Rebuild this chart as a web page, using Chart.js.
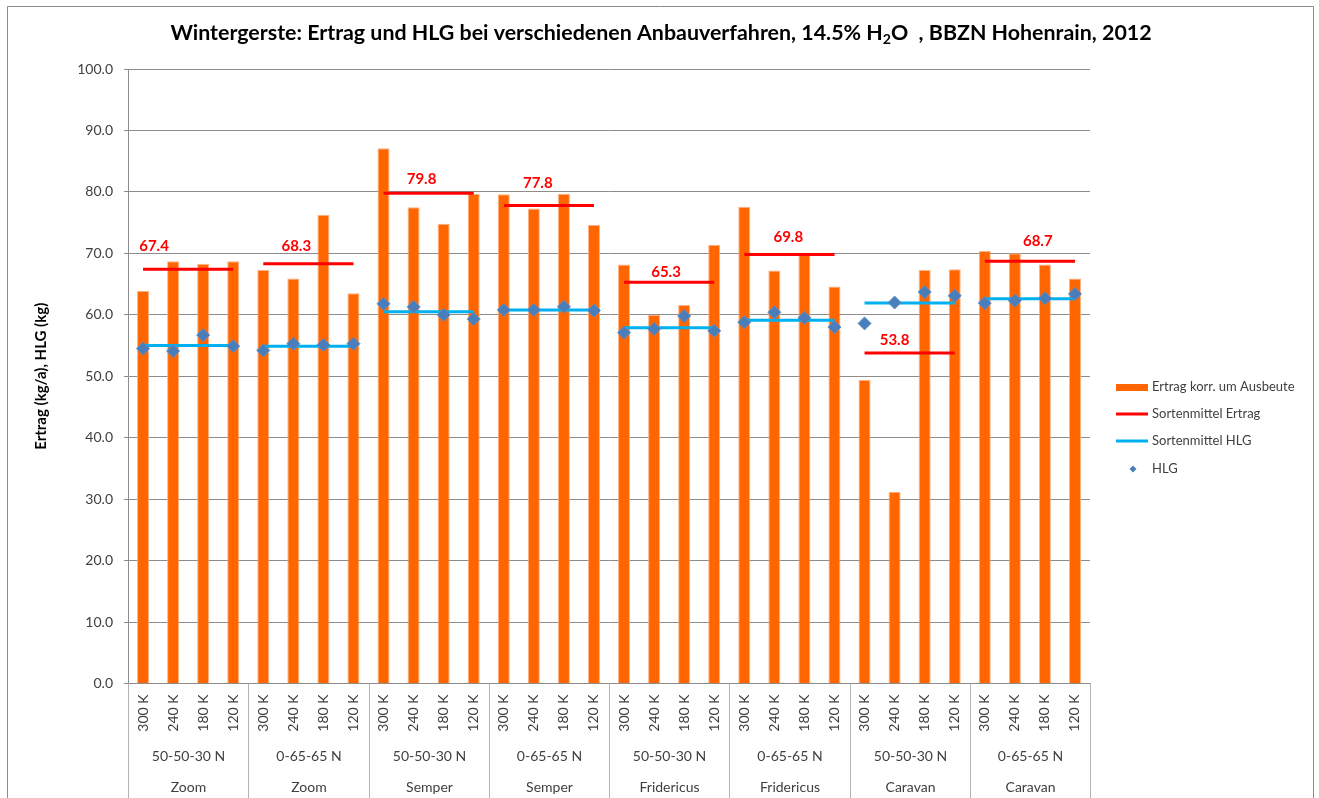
<!DOCTYPE html>
<html>
<head>
<meta charset="utf-8">
<script src="https://cdn.jsdelivr.net/npm/chart.js@4.4.1/dist/chart.umd.min.js"></script>
<style>
  html, body { margin: 0; padding: 0; background: #ffffff; }
  #wrap { width: 1319px; height: 798px; position: relative; }
</style>
</head>
<body>
<div id="wrap"><canvas id="c" width="1319" height="798"></canvas></div>
<script>
// ---------- data ----------
const kLabels = ['300 K', '240 K', '180 K', '120 K'];
const nLabels = ['50-50-30 N', '0-65-65 N', '50-50-30 N', '0-65-65 N', '50-50-30 N', '0-65-65 N', '50-50-30 N', '0-65-65 N'];
const sortLabels = ['Zoom', 'Zoom', 'Semper', 'Semper', 'Fridericus', 'Fridericus', 'Caravan', 'Caravan'];

const ertrag = [
  63.9, 68.7, 68.3, 68.7,
  67.3, 65.9, 76.3, 63.5,
  87.1, 77.5, 74.8, 79.7,
  79.6, 77.3, 79.7, 74.6,
  68.2, 60.0, 61.6, 71.4,
  77.6, 67.2, 69.9, 64.6,
  49.4, 31.2, 67.3, 67.4,
  70.4, 70.0, 68.2, 65.9
];
const hlg = [
  54.5, 54.1, 56.7, 54.9,
  54.2, 55.3, 55.1, 55.3,
  61.8, 61.3, 60.0, 59.3,
  60.8, 60.8, 61.3, 60.7,
  57.1, 57.7, 59.8, 57.4,
  58.8, 60.4, 59.5, 58.0,
  58.6, 62.0, 63.7, 63.1,
  61.9, 62.3, 62.7, 63.4
];
const ertragMean = [67.4, 68.3, 79.8, 77.8, 65.3, 69.8, 53.8, 68.7];
const hlgMean = [55.0, 54.9, 60.5, 60.8, 57.9, 59.1, 61.9, 62.6];

const yTicks = [0, 10, 20, 30, 40, 50, 60, 70, 80, 90, 100];

// ---------- derived tables ----------
const categories = [];
sortLabels.forEach(() => kLabels.forEach(k => categories.push(k)));
const ertragMeanLine = [];
const hlgMeanLine = [];
ertragMean.forEach(m => { for (let i = 0; i < kLabels.length; i++) ertragMeanLine.push(m); });
hlgMean.forEach(m => { for (let i = 0; i < kLabels.length; i++) hlgMeanLine.push(m); });

// ---------- styles ----------
const FONT = 'Lato, "Open Sans", "Liberation Sans", sans-serif';
const TXT = '#404040';
const GRID = '#8c8c8c';
const SEP = '#b4b4b4';
const ORANGE = '#FF6600';
const RED = '#FF0000';
const CYAN = '#00B0F0';
const BLUE = '#4A7EBB';
// label placement offsets (pixels) relative to first point of each group's mean line
const labelDx = [11, 33, 38, 34, 42, 44, 30, 53];
const labelDy = [-23, -18, -14, -22, -10, -17, -13, -20];

const groupSize = kLabels.length;
function gapSegment(color) {
  return ctx => (ctx.p0DataIndex % groupSize === groupSize - 1) ? 'rgba(0,0,0,0)' : color;
}

const decor = {
  id: 'decor',
  afterDraw(chart) {
    const ctx = chart.ctx;
    const xs = chart.scales.x, ys = chart.scales.y;
    const area = chart.chartArea;
    ctx.save();

    // outer border
    ctx.strokeStyle = '#8a8a8a';
    ctx.lineWidth = 1;
    ctx.beginPath();
    ctx.moveTo(7.5, 800); ctx.lineTo(7.5, 6.5); ctx.lineTo(1313.5, 6.5); ctx.lineTo(1313.5, 800);
    ctx.stroke();

    // title with subscript
    const parts = [
      ['Wintergerste: Ertrag und HLG bei verschiedenen Anbauverfahren, 14.5% H', false],
      ['2', true],
      ['O  , BBZN Hohenrain, 2012', false]
    ];
    let size = 20;
    const measure = s => {
      let w = 0;
      parts.forEach(([t, sub]) => { ctx.font = 'bold ' + (sub ? s * 0.66 : s) + 'px ' + FONT; w += ctx.measureText(t).width; });
      return w;
    };
    let w = measure(size);
    size = size * 982 / w;
    w = measure(size);
    let tx = 661 - w / 2;
    ctx.fillStyle = '#000000';
    ctx.textBaseline = 'alphabetic';
    ctx.textAlign = 'left';
    parts.forEach(([t, sub]) => {
      ctx.font = 'bold ' + (sub ? size * 0.66 : size) + 'px ' + FONT;
      ctx.fillText(t, tx, sub ? 44 : 40);
      tx += ctx.measureText(t).width;
    });

    // y axis title
    ctx.save();
    ctx.translate(41, (area.top + area.bottom) / 2);
    ctx.rotate(-Math.PI / 2);
    ctx.font = 'bold 15px ' + FONT;
    ctx.fillStyle = '#000000';
    ctx.textAlign = 'center';
    ctx.textBaseline = 'middle';
    ctx.fillText('Ertrag (kg/a), HLG (kg)', 0, 0);
    ctx.restore();

    // x axis: rotated K labels
    ctx.fillStyle = TXT;
    ctx.font = '14px ' + FONT;
    categories.forEach((lab, i) => {
      const x = xs.getPixelForValue(i);
      ctx.save();
      ctx.translate(x, area.bottom + 11);
      ctx.rotate(-Math.PI / 2);
      ctx.textAlign = 'right';
      ctx.textBaseline = 'middle';
      ctx.fillText(lab, 0, 0);
      ctx.restore();
    });
    // group labels and separators
    ctx.textAlign = 'center';
    ctx.textBaseline = 'middle';
    const nG = sortLabels.length;
    const edges = [];
    for (let g = 0; g <= nG; g++) {
      let x;
      if (g === 0) x = area.left;
      else if (g === nG) x = area.right;
      else x = (xs.getPixelForValue(g * groupSize - 1) + xs.getPixelForValue(g * groupSize)) / 2;
      edges.push(Math.round(x) + 0.5);
    }
    ctx.strokeStyle = SEP;
    ctx.lineWidth = 1;
    edges.forEach(x => {
      ctx.beginPath(); ctx.moveTo(x, area.bottom); ctx.lineTo(x, 800); ctx.stroke();
    });
    for (let g = 0; g < nG; g++) {
      const cx = (edges[g] + edges[g + 1]) / 2;
      ctx.fillText(nLabels[g], cx, 756);
      ctx.fillText(sortLabels[g], cx, 787);
    }

    // mean labels
    ctx.fillStyle = RED;
    ctx.font = 'bold 15px ' + FONT;
    ertragMean.forEach((m, g) => {
      const x = xs.getPixelForValue(g * groupSize) + labelDx[g];
      const y = ys.getPixelForValue(m) + labelDy[g];
      ctx.fillText(m.toFixed(1), x, y);
    });

    // legend
    const lx = 1116, lw = 32, tx0 = 1152;
    ctx.font = '13px ' + FONT;
    ctx.textAlign = 'left';
    ctx.textBaseline = 'middle';
    const items = chart.data.datasets;
    ctx.fillStyle = ORANGE;
    ctx.fillRect(lx, 384, lw, 7);
    ctx.fillStyle = TXT;
    ctx.fillText(items[0].label, tx0, 387);
    ctx.strokeStyle = RED; ctx.lineWidth = 3;
    ctx.beginPath(); ctx.moveTo(lx, 414); ctx.lineTo(lx + lw, 414); ctx.stroke();
    ctx.fillText(items[1].label, tx0, 414);
    ctx.strokeStyle = CYAN;
    ctx.beginPath(); ctx.moveTo(lx, 441); ctx.lineTo(lx + lw, 441); ctx.stroke();
    ctx.fillText(items[2].label, tx0, 441);
    ctx.fillStyle = BLUE;
    ctx.beginPath();
    ctx.moveTo(1133, 465.5); ctx.lineTo(1136.5, 469); ctx.lineTo(1133, 472.5); ctx.lineTo(1129.5, 469); ctx.closePath();
    ctx.fill();
    ctx.fillStyle = TXT;
    ctx.fillText(items[3].label, tx0, 469);

    ctx.restore();
  }
};

new Chart(document.getElementById('c'), {
  type: 'bar',
  data: {
    labels: categories,
    datasets: [
      {
        type: 'bar',
        label: 'Ertrag korr. um Ausbeute',
        data: ertrag,
        backgroundColor: ORANGE,
        borderColor: 'rgba(255,170,120,0.9)',
        borderWidth: 1,
        categoryPercentage: 1.0,
        barPercentage: 0.4,
        order: 4
      },
      {
        type: 'line',
        label: 'Sortenmittel Ertrag',
        data: ertragMeanLine,
        borderColor: RED,
        borderWidth: 3,
        pointRadius: 0,
        fill: false,
        segment: { borderColor: gapSegment(RED) },
        order: 3
      },
      {
        type: 'line',
        label: 'Sortenmittel HLG',
        data: hlgMeanLine,
        borderColor: CYAN,
        borderWidth: 3,
        pointRadius: 0,
        fill: false,
        segment: { borderColor: gapSegment(CYAN) },
        order: 2
      },
      {
        type: 'line',
        label: 'HLG',
        data: hlg,
        showLine: false,
        pointStyle: 'rectRot',
        pointRadius: 6.5,
        pointBackgroundColor: BLUE,
        pointBorderColor: 'rgba(90,140,200,0.9)',
        pointBorderWidth: 1,
        order: 1
      }
    ]
  },
  options: {
    responsive: false,
    animation: false,
    events: [],
    layout: { padding: { top: 69, right: 229, bottom: 0, left: 0 } },
    plugins: {
      legend: { display: false },
      title: { display: false },
      tooltip: { enabled: false }
    },
    scales: {
      x: {
        grid: { display: false },
        border: { display: true, color: GRID, width: 1 },
        ticks: { display: false },
        afterFit(scale) { scale.height = 114.5; }
      },
      y: {
        min: yTicks[0],
        max: yTicks[yTicks.length - 1],
        afterBuildTicks(scale) { scale.ticks = yTicks.map(v => ({ value: v })); },
        grid: { color: GRID, lineWidth: 1, tickLength: 4, drawTicks: true },
        border: { display: true, color: GRID, width: 1 },
        ticks: {
          color: TXT,
          padding: 11,
          font: { family: FONT, size: 14 },
          callback: v => Number(v).toFixed(1)
        },
        afterFit(scale) { scale.width = 128; }
      }
    }
  },
  plugins: [decor]
});
</script>
</body>
</html>
